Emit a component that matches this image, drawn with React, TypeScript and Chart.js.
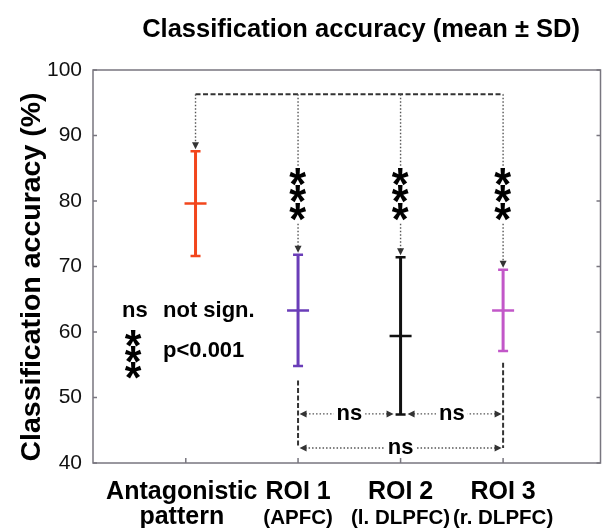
import React, { useEffect, useRef } from 'react';
import { Chart, registerables } from 'chart.js';

Chart.register(...registerables);

const FONT = "'Liberation Sans', Arial, Helvetica, sans-serif";
const STAR_FONT = "'Liberation Sans', Arial, sans-serif";

// ---- data ----
const categories = ['Antagonistic', 'ROI 1', 'ROI 2', 'ROI 3'];
const subLabels = ['pattern', '(APFC)', '(l. DLPFC)', '(r. DLPFC)'];
const xPositions = [1, 2, 3, 4];
const labelPositions = [0.905, 2, 3, 4];
const means = [79.6, 63.3, 59.4, 63.3];
const sds = [8.0, 8.5, 12.0, 6.2];
const colors = ['#f2461c', '#6a3db8', '#111111', '#c257c8'];
const yMin = 40;
const yMax = 100;
const yStep = 10;
const xMax = 4.95;

// significance annotations
const topBracketY = 96.3;
const topStarsY = 81.0;
const topStars = ['', '***', '***', '***'];
const pairLevelY = 47.5;
const outerLevelY = 42.3;
const dropStarts = [52.6, 55.3]; // dashed drops at ROI 1 and ROI 3
const pairComparisons: [number, number, string][] = [
  [1, 2, 'ns'],
  [2, 3, 'ns'],
];
const outerComparison: [number, number, string] = [1, 3, 'ns'];
const legendSymbols = ['ns', '***'];
const legendTexts = ['not sign.', 'p<0.001'];
const titleText = 'Classification accuracy (mean ± SD)';
const yTitleText = 'Classification accuracy (%)';

const AXIS = '#78767f';
const DOT = '#555555';
const DASH = '#333333';

function arrowHead(ctx: CanvasRenderingContext2D, x: number, y: number, dir: string) {
  const L = 7;
  const W = 3.5;
  ctx.beginPath();
  if (dir === 'down') {
    ctx.moveTo(x, y);
    ctx.lineTo(x - W, y - L);
    ctx.lineTo(x + W, y - L);
  } else if (dir === 'left') {
    ctx.moveTo(x, y);
    ctx.lineTo(x + L, y - W);
    ctx.lineTo(x + L, y + W);
  } else {
    ctx.moveTo(x, y);
    ctx.lineTo(x - L, y - W);
    ctx.lineTo(x - L, y + W);
  }
  ctx.closePath();
  ctx.fill();
}

function drawStars(ctx: CanvasRenderingContext2D, cx: number, cy: number, n: number, spacing: number, size: number, bg: boolean) {
  ctx.font = `bold ${size}px ${STAR_FONT}`;
  ctx.textAlign = 'left';
  ctx.textBaseline = 'alphabetic';
  const m = ctx.measureText('*');
  const off = (m.actualBoundingBoxAscent - m.actualBoundingBoxDescent) / 2;
  const gw = m.actualBoundingBoxLeft + m.actualBoundingBoxRight;
  const sx = 17.5 / Math.max(gw, 1);
  if (bg) {
    ctx.fillStyle = '#ffffff';
    ctx.fillRect(cx - 11, cy - (n / 2) * spacing - 2, 22, n * spacing + 4);
  }
  ctx.fillStyle = '#000000';
  for (let i = 0; i < n; i++) {
    const yy = cy + (i - (n - 1) / 2) * spacing;
    ctx.save();
    ctx.translate(cx, yy + off);
    ctx.scale(sx, 1);
    ctx.fillText('*', -(m.actualBoundingBoxRight - m.actualBoundingBoxLeft) / 2, 0);
    ctx.restore();
  }
}

function centeredLabel(ctx: CanvasRenderingContext2D, text: string, cx: number, cy: number) {
  ctx.font = `bold 22px ${FONT}`;
  ctx.textAlign = 'center';
  ctx.textBaseline = 'alphabetic';
  const m = ctx.measureText(text);
  const h = m.actualBoundingBoxAscent + m.actualBoundingBoxDescent;
  ctx.fillStyle = '#ffffff';
  ctx.fillRect(cx - m.width / 2 - 3, cy - h / 2 - 2, m.width + 6, h + 4);
  ctx.fillStyle = '#000000';
  ctx.fillText(text, cx, cy + (m.actualBoundingBoxAscent - m.actualBoundingBoxDescent) / 2);
}

function dottedLine(ctx: CanvasRenderingContext2D, x1: number, y1: number, x2: number, y2: number) {
  ctx.save();
  ctx.strokeStyle = DOT;
  ctx.lineWidth = 1.4;
  ctx.setLineDash([1.5, 2]);
  ctx.beginPath();
  ctx.moveTo(x1, y1);
  ctx.lineTo(x2, y2);
  ctx.stroke();
  ctx.restore();
}

function dashedLine(ctx: CanvasRenderingContext2D, x1: number, y1: number, x2: number, y2: number) {
  ctx.save();
  ctx.strokeStyle = DASH;
  ctx.lineWidth = 2;
  ctx.setLineDash([5, 2.5]);
  ctx.beginPath();
  ctx.moveTo(x1, y1);
  ctx.lineTo(x2, y2);
  ctx.stroke();
  ctx.restore();
}

const annotPlugin = {
  id: 'annot',
  afterDatasetsDraw(chart: any) {
    const { ctx, chartArea: ca, scales } = chart;
    const X = (v: number) => scales.x.getPixelForValue(v);
    const Y = (v: number) => scales.y.getPixelForValue(v);
    ctx.save();

    // box
    ctx.strokeStyle = AXIS;
    ctx.lineWidth = 1.5;
    ctx.strokeRect(ca.left, ca.top, ca.right - ca.left, ca.bottom - ca.top);
    // inward ticks
    ctx.beginPath();
    for (let v = yMin; v <= yMax; v += yStep) {
      const y = Y(v);
      ctx.moveTo(ca.left, y);
      ctx.lineTo(ca.left + 4, y);
      ctx.moveTo(ca.right, y);
      ctx.lineTo(ca.right - 4, y);
    }
    labelPositions.forEach((p) => {
      const x = X(p);
      ctx.moveTo(x, ca.bottom);
      ctx.lineTo(x, ca.bottom - 5);
    });
    ctx.stroke();

    // top bracket
    const yb = Y(topBracketY);
    dashedLine(ctx, X(xPositions[0]), yb, X(xPositions[xPositions.length - 1]), yb);
    xPositions.forEach((xp, i) => {
      const x = X(xp);
      const tip = Y(means[i] + sds[i]) - 2;
      dottedLine(ctx, x, yb, x, tip - 6);
      ctx.fillStyle = DASH;
      arrowHead(ctx, x, tip, 'down');
    });
    xPositions.forEach((xp, i) => {
      if (topStars[i]) {
        drawStars(ctx, X(xp), Y(topStarsY), topStars[i].length, 17.5, 47, true);
      }
    });

    // bottom comparisons
    const xa = X(xPositions[outerComparison[0]]);
    const xb = X(xPositions[outerComparison[1]]);
    const yo = Y(outerLevelY);
    dashedLine(ctx, xa, Y(dropStarts[0]), xa, yo);
    dashedLine(ctx, xb, Y(dropStarts[1]), xb, yo);

    const yp = Y(pairLevelY);
    const isDrop = (i: number) => i === outerComparison[0] || i === outerComparison[1];
    pairComparisons.forEach(([a, b, lab]) => {
      const x1 = X(xPositions[a]) + (isDrop(a) ? 1.5 : 7);
      const x2 = X(xPositions[b]) - (isDrop(b) ? 1.5 : 7);
      dottedLine(ctx, x1 + 6, yp, x2 - 6, yp);
      ctx.fillStyle = DASH;
      arrowHead(ctx, x1, yp, 'left');
      arrowHead(ctx, x2, yp, 'right');
      centeredLabel(ctx, lab, (X(xPositions[a]) + X(xPositions[b])) / 2, yp);
    });
    dottedLine(ctx, xa + 7, yo, xb - 7, yo);
    ctx.fillStyle = DASH;
    arrowHead(ctx, xa + 1.5, yo, 'left');
    arrowHead(ctx, xb - 1.5, yo, 'right');
    centeredLabel(ctx, outerComparison[2], (xa + xb) / 2, yo);

    // legend
    ctx.fillStyle = '#000000';
    ctx.font = `bold 22px ${FONT}`;
    ctx.textAlign = 'left';
    ctx.textBaseline = 'alphabetic';
    ctx.fillText(legendSymbols[0], 122, 317);
    ctx.fillText(legendTexts[0], 163, 317);
    drawStars(ctx, 133.5, 354, legendSymbols[1].length, 16, 44, false);
    ctx.font = `bold 22px ${FONT}`;
    ctx.textAlign = 'left';
    ctx.fillText(legendTexts[1], 163, 357);

    // title
    ctx.fillStyle = '#000000';
    ctx.font = `bold 25.5px ${FONT}`;
    ctx.textAlign = 'center';
    ctx.fillText(titleText, 361, 37);

    // y title
    ctx.save();
    ctx.translate(40, 277);
    ctx.rotate(-Math.PI / 2);
    ctx.font = `bold 28.5px ${FONT}`;
    ctx.textAlign = 'center';
    ctx.fillText(yTitleText, 0, 0);
    ctx.restore();

    // x labels
    categories.forEach((c, i) => {
      const x = X(labelPositions[i]);
      ctx.textAlign = 'center';
      ctx.font = `bold 25px ${FONT}`;
      ctx.fillText(c, x - (i === 0 ? 4 : 0), 499);
      ctx.font = i === 0 ? `bold 25px ${FONT}` : `bold 20.5px ${FONT}`;
      ctx.fillText(subLabels[i], x - (i === 0 ? 4 : 0), 524);
    });

    ctx.restore();
  },
};

export default function App() {
  const ref = useRef<HTMLCanvasElement | null>(null);

  useEffect(() => {
    if (!ref.current) return;
    const whiskers = xPositions.map((x, i) => ({
      type: 'scatter' as const,
      data: [
        { x, y: means[i] - sds[i] },
        { x, y: means[i] + sds[i] },
      ],
      showLine: true,
      borderColor: colors[i],
      borderWidth: 3,
      pointStyle: 'line' as const,
      pointRadius: 5,
      pointBorderWidth: 2.5,
      pointBorderColor: colors[i],
      pointBackgroundColor: colors[i],
    }));
    const meanMarks = {
      type: 'scatter' as const,
      data: xPositions.map((x, i) => ({ x, y: means[i] })),
      showLine: false,
      pointStyle: 'line' as const,
      pointRadius: 11,
      pointBorderWidth: 2.5,
      pointBorderColor: colors,
      borderColor: colors,
      pointBackgroundColor: colors,
    };
    const chart = new Chart(ref.current, {
      type: 'scatter',
      data: { datasets: [...whiskers, meanMarks] as any },
      options: {
        animation: false,
        responsive: false,
        devicePixelRatio: 1,
        events: [],
        layout: { padding: { left: 0, right: 1.5, top: 70, bottom: 0 } },
        plugins: { legend: { display: false }, tooltip: { enabled: false }, title: { display: false } },
        scales: {
          x: {
            type: 'linear',
            min: 0,
            max: xMax,
            ticks: { display: false },
            grid: { display: false },
            border: { display: false },
            afterFit: (s: any) => {
              s.height = 65;
            },
          },
          y: {
            type: 'linear',
            min: yMin,
            max: yMax,
            ticks: {
              stepSize: yStep,
              padding: 3,
              color: '#111111',
              font: { family: FONT, size: 21 },
            },
            grid: { display: false },
            border: { display: false },
            afterFit: (s: any) => {
              s.width = 93;
            },
          },
        },
      },
      plugins: [annotPlugin],
    });
    return () => chart.destroy();
  }, []);

  return (
    <div style={{ position: 'absolute', left: 0, top: 0, width: 614, height: 528, background: '#ffffff' }}>
      <canvas ref={ref} width={614} height={528} style={{ width: 614, height: 528 }} />
    </div>
  );
}
